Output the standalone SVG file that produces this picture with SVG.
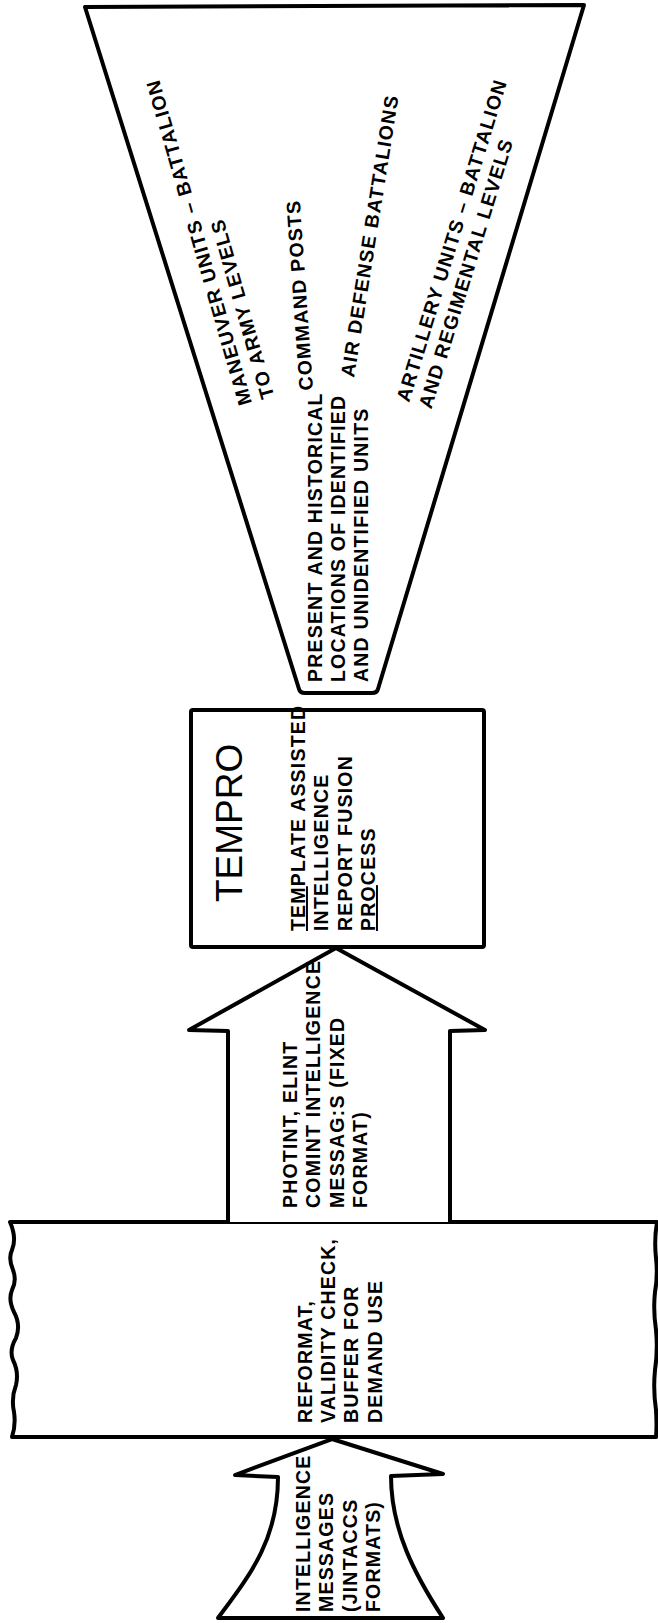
<svg xmlns="http://www.w3.org/2000/svg" width="658" height="1623" viewBox="0 0 658 1623">
<style>
.s{fill:#fff;stroke:#000;stroke-width:4;stroke-linejoin:round;stroke-linecap:round}
.t{font-family:"Liberation Sans",Arial,Helvetica,sans-serif;font-weight:bold;font-size:19.5px;letter-spacing:1.2px;fill:#000}
.big{font-family:"Liberation Sans",Arial,Helvetica,sans-serif;font-weight:normal;font-size:37px;fill:#000}
.u{text-decoration:underline}
</style>
<rect width="658" height="1623" fill="#fff"/>
<g id="funnel">
<path class="s" d="M85,7 L584,5 L378,689 Q377,693 372,693 L305,693 Q300,693 299,689 Z"/>
<text class="t" transform="translate(252,403) rotate(-106)"><tspan x="0" y="0">MANEUVER UNITS – BATTALION</tspan><tspan x="0" y="23.3">TO ARMY LEVELS</tspan></text>
<text class="t" transform="translate(313,390) rotate(-94)">COMMAND POSTS</text>
<text class="t" transform="translate(354,378) rotate(-81)">AIR DEFENSE BATTALIONS</text>
<text class="t" transform="translate(409,403) rotate(-73)"><tspan x="0" y="0">ARTILLERY UNITS – BATTALION</tspan><tspan x="0" y="23.3">AND REGIMENTAL LEVELS</tspan></text>
<text class="t" transform="translate(321.7,682) rotate(-90)"><tspan x="0" y="0">PRESENT AND HISTORICAL</tspan><tspan x="0" y="23.3">LOCATIONS OF IDENTIFIED</tspan><tspan x="0" y="46.6">AND UNIDENTIFIED UNITS</tspan></text>
</g>
<g id="tempro">
<rect class="s" x="191" y="710" width="293" height="237" rx="2"/>
<text class="big" transform="translate(242,902) rotate(-90)">TEMPRO</text>
<text class="t" transform="translate(305,931) rotate(-90)"><tspan x="0" y="0"><tspan class="u">TEM</tspan>PLATE ASSISTED</tspan><tspan x="0" y="23.3">INTELLIGENCE</tspan><tspan x="0" y="46.6">REPORT FUSION</tspan><tspan x="0" y="70"><tspan class="u">PRO</tspan>CESS</tspan></text>
</g>
<g id="process-box">
<path class="s" d="M10,1222 L657,1222 Q654,1240 656,1258 Q658,1275 655,1292 Q653,1310 656,1330 Q658,1350 655,1370 Q653,1390 656,1410 Q657,1425 656,1437 L12,1437 Q16,1425 14,1412 Q11,1398 16,1385 Q19,1372 13,1360 Q9,1350 16,1338 Q21,1325 14,1312 Q8,1300 12,1290 Q17,1280 13,1270 Q8,1258 12,1250 Q17,1238 10,1222 Z"/>
<text class="t" transform="translate(311.7,1423) rotate(-90)"><tspan x="0" y="0">REFORMAT,</tspan><tspan x="0" y="23.3">VALIDITY CHECK,</tspan><tspan x="0" y="46.6">BUFFER FOR</tspan><tspan x="0" y="70">DEMAND USE</tspan></text>
</g>
<g id="connectors">
<g id="arrow-fixed">
<path class="s" d="M228,1222 L228,1031 L189,1030 L336,948 L485,1030 L450,1031 L450,1222"/>
<text class="t" transform="translate(297,1208) rotate(-90)"><tspan x="0" y="0">PHOTINT, ELINT</tspan><tspan x="0" y="23.3">COMINT INTELLIGENCE</tspan><tspan x="0" y="46.6">MESSAG:S (FIXED</tspan><tspan x="0" y="70">FORMAT)</tspan></text>
</g>
<g id="arrow-jintaccs">
<path class="s" d="M218,1618 C250,1575 278,1540 278,1477 L235,1475 L332,1439 L443,1474 L391,1476 C391,1530 415,1575 443,1618 Z"/>
<text class="t" transform="translate(310,1612) rotate(-90)"><tspan x="0" y="0">INTELLIGENCE</tspan><tspan x="0" y="23.3">MESSAGES</tspan><tspan x="0" y="46.6">(JINTACCS</tspan><tspan x="0" y="70">FORMATS)</tspan></text>
</g>
</g>
</svg>
